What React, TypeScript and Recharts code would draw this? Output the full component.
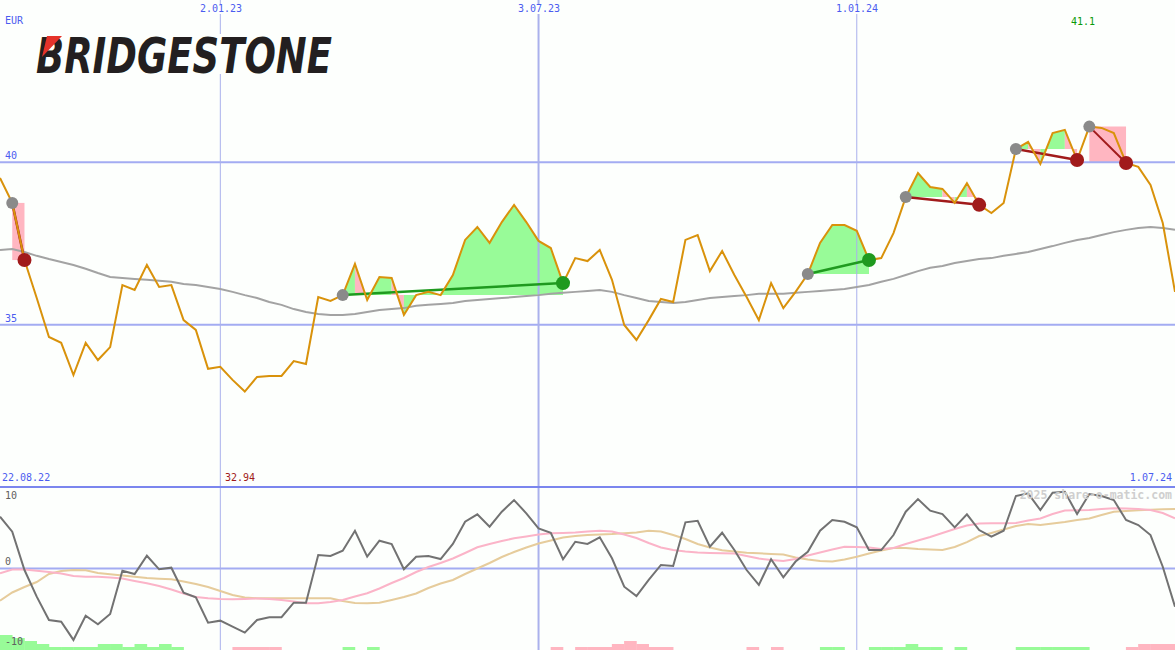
import { ComposedChart, Line, Area, Bar, XAxis, YAxis, ReferenceLine } from 'recharts';

// Weekly chart, week 1 sits on the left edge (29.08.22), week 97 = 1.07.24 on the right edge.
const W = 1175;
const TOP_H = 487;
const BOT_H = 163;
const BG = '#fdfffd';
const GRID = '#a3acf2';
const VGRID = '#aab1ec';

// weekly closes (EUR)
const price = [
  39.52, 38.75, 36.99, 35.82, 34.62, 34.44, 33.45, 34.44, 33.91, 34.31,
  36.22, 36.07, 36.84, 36.16, 36.22, 35.14, 34.84, 33.64, 33.70, 33.30,
  32.94, 33.39, 33.42, 33.42, 33.88, 33.79, 35.85, 35.73, 35.91, 36.87,
  35.76, 36.47, 36.44, 35.30, 35.91, 36.01, 35.91, 36.53, 37.61, 38.01,
  37.52, 38.16, 38.69, 38.16, 37.58, 37.36, 36.28, 37.05, 36.96, 37.30,
  36.38, 34.99, 34.53, 35.14, 35.79, 35.70, 37.61, 37.76, 36.65, 37.27,
  36.53, 35.85, 35.14, 36.28, 35.51, 36.01, 36.56, 37.52, 38.07, 38.07,
  37.89, 36.99, 37.05, 37.82, 38.93, 39.67, 39.24, 39.18, 38.75, 39.36,
  38.69, 38.44, 38.75, 40.41, 40.63, 39.95, 40.90, 41.00, 40.07, 41.10,
  41.06, 40.90, 39.98, 39.86, 39.30, 38.13, 36.01,
];

// long moving average (grey)
const ma = [
  37.30, 37.33, 37.24, 37.12, 37.02, 36.93, 36.84, 36.72, 36.59, 36.47,
  36.44, 36.41, 36.38, 36.35, 36.32, 36.25, 36.22, 36.16, 36.10, 36.01,
  35.91, 35.82, 35.70, 35.61, 35.48, 35.39, 35.33, 35.30, 35.30, 35.33,
  35.39, 35.45, 35.48, 35.51, 35.58, 35.61, 35.64, 35.67, 35.73, 35.76,
  35.79, 35.82, 35.85, 35.88, 35.91, 35.95, 35.98, 36.01, 36.04, 36.07,
  36.01, 35.91, 35.82, 35.73, 35.70, 35.67, 35.70, 35.76, 35.82, 35.85,
  35.88, 35.91, 35.95, 35.95, 35.95, 35.98, 36.01, 36.04, 36.07, 36.10,
  36.16, 36.22, 36.32, 36.41, 36.53, 36.65, 36.75, 36.81, 36.90, 36.96,
  37.02, 37.05, 37.12, 37.18, 37.24, 37.33, 37.42, 37.52, 37.61, 37.67,
  37.76, 37.85, 37.92, 37.98, 38.01, 37.98, 37.92,
];

// lower panel: oscillator (grey) and its two averages (pink, tan)
const osc = [
  7.81, 5.55, -0.23, -4.25, -7.77, -8.02, -10.78, -7.12, -8.42, -6.86,
  -0.33, -0.83, 1.93, -0.12, 0.12, -3.65, -4.34, -8.17, -7.87, -8.78,
  -9.68, -7.77, -7.36, -7.36, -5.16, -5.16, 2.04, 1.89, 2.68, 5.70,
  1.78, 4.19, 3.70, -0.12, 1.78, 1.89, 1.43, 3.70, 7.06, 8.17,
  6.30, 8.57, 10.33, 8.33, 6.06, 5.40, 1.39, 4.04, 3.70, 4.71,
  1.54, -2.75, -4.15, -1.73, 0.53, 0.38, 6.97, 7.21, 3.29, 5.40,
  2.79, -0.23, -2.49, 1.39, -1.33, 1.05, 2.53, 5.70, 7.32, 7.06,
  6.21, 2.79, 2.79, 5.05, 8.57, 10.48, 8.72, 8.22, 6.21, 8.17,
  5.81, 4.80, 5.70, 10.94, 11.34, 8.82, 11.43, 11.58, 8.22, 11.24,
  10.94, 10.33, 7.32, 6.56, 5.05, 0.27, -5.76,
];
const oscFast = [
  -0.72, -0.15, -0.15, -0.33, -0.53, -0.75, -1.13, -1.24, -1.24, -1.36,
  -1.51, -1.89, -2.23, -2.64, -3.17, -3.77, -4.30, -4.49, -4.60, -4.65,
  -4.60, -4.52, -4.60, -4.75, -4.98, -5.25, -5.25, -5.05, -4.75, -4.22,
  -3.74, -3.02, -2.19, -1.43, -0.53, 0.23, 0.83, 1.51, 2.34, 3.20,
  3.70, 4.15, 4.56, 4.83, 5.13, 5.31, 5.35, 5.43, 5.58, 5.70,
  5.58, 5.13, 4.60, 3.85, 3.17, 2.79, 2.56, 2.41, 2.34, 2.31,
  2.26, 1.89, 1.51, 1.28, 1.13, 1.43, 1.96, 2.41, 2.87, 3.29,
  3.24, 3.17, 2.94, 3.09, 3.70, 4.22, 4.75, 5.35, 5.96, 6.49,
  6.79, 6.82, 6.82, 6.86, 7.24, 7.54, 8.22, 8.75, 8.79, 8.82,
  8.97, 9.08, 9.05, 8.97, 8.82, 8.37, 7.57,
];
const oscSlow = [
  -4.86, -3.62, -2.79, -2.04, -0.83, -0.38, -0.23, -0.27, -0.68, -0.87,
  -1.06, -1.25, -1.43, -1.54, -1.61, -1.96, -2.34, -2.79, -3.39, -4.00,
  -4.37, -4.49, -4.49, -4.49, -4.49, -4.49, -4.49, -4.49, -4.90, -5.20,
  -5.25, -5.16, -4.75, -4.30, -3.77, -2.94, -2.26, -1.73, -0.83, 0.00,
  0.83, 1.73, 2.49, 3.17, 3.77, 4.22, 4.68, 4.90, 5.05, 5.13,
  5.20, 5.32, 5.43, 5.69, 5.58, 5.05, 4.45, 3.70, 3.17, 2.76,
  2.56, 2.38, 2.29, 2.19, 2.11, 1.66, 1.36, 1.13, 1.06, 1.36,
  1.78, 2.26, 2.71, 3.09, 3.09, 2.94, 2.87, 2.79, 3.24, 3.99,
  4.90, 5.35, 5.88, 6.41, 6.71, 6.56, 6.79, 7.01, 7.32, 7.54,
  8.07, 8.57, 8.67, 8.79, 8.88, 8.94, 8.97,
];

// histogram blocks at the bottom: [week, level], a block covers week..week+1
const histUp = [
  [1, 5], [2, 4], [3, 3], [4, 2], [5, 1], [6, 1], [7, 1], [8, 1], [9, 2], [10, 2],
  [11, 1], [12, 2], [13, 1], [14, 2], [15, 1], [29, 1], [31, 1], [68, 1], [69, 1],
  [72, 1], [73, 1], [74, 1], [75, 2], [76, 1], [77, 1], [79, 1],
  [84, 1], [85, 1], [86, 1], [87, 1], [88, 1], [89, 1],
];
const histDown = [
  [20, 1], [21, 1], [22, 1], [23, 1], [46, 1], [48, 1], [49, 1], [50, 1], [51, 2],
  [52, 3], [53, 2], [54, 1], [55, 1], [62, 1], [64, 1], [93, 1], [94, 2], [95, 2], [96, 2],
];

// signals: entry week (grey dot) -> exit week (green / red dot)
const trades = [
  { entry: 2, exit: 3, win: false, box: true },
  { entry: 29, exit: 47, win: true, box: false },
  { entry: 67, exit: 72, win: true, box: false },
  { entry: 75, exit: 81, win: false, box: false },
  { entry: 84, exit: 89, win: false, box: false },
  { entry: 90, exit: 93, win: false, box: true },
];
// shaded runs between price and the entry level
const fillRuns = [
  { trade: 1, from: 29, to: 30, up: true },
  { trade: 1, from: 30, to: 31, up: false },
  { trade: 1, from: 31, to: 33, up: true },
  { trade: 1, from: 33, to: 34, up: false },
  { trade: 1, from: 34, to: 47, up: true },
  { trade: 2, from: 67, to: 72, up: true },
  { trade: 3, from: 75, to: 78, up: true },
  { trade: 3, from: 78, to: 79, up: false },
  { trade: 3, from: 79, to: 80, up: true },
  { trade: 3, from: 80, to: 81, up: false },
  { trade: 4, from: 84, to: 85, up: true },
  { trade: 4, from: 85, to: 86, up: false },
  { trade: 4, from: 86, to: 88, up: true },
  { trade: 4, from: 88, to: 89, up: false },
];

const dateTicks = [
  { week: 19, px: 221, label: '2.01.23', wide: false },
  { week: 45, px: 539, label: '3.07.23', wide: true },
  { week: 71, px: 857, label: '1.01.24', wide: false },
];
const priceGrid = [40, 35];

const GREEN_FILL = '#98fb98';
const PINK_FILL = '#ffb6c1';

const rows: any[] = price.map((p, k) => ({
  i: k + 1, price: p, ma: ma[k], osc: osc[k], fast: oscFast[k], slow: oscSlow[k],
}));
trades.forEach((t, n) => {
  const a = price[t.entry - 1];
  const b = price[t.exit - 1];
  rows[t.entry - 1]['t' + n] = a;
  rows[t.exit - 1]['t' + n] = b;
  rows[t.entry - 1].entryDot = a;
  rows[t.exit - 1][t.win ? 'winDot' : 'lossDot'] = b;
  if (t.box) {
    for (let i = t.entry; i <= t.exit; i++) rows[i - 1]['box' + n] = [b, a];
  }
});
fillRuns.forEach((f, n) => {
  const base = price[trades[f.trade].entry - 1];
  for (let i = f.from; i <= f.to; i++) rows[i - 1]['f' + n] = [base, price[i - 1]];
});

const histRows: any[] = [];
for (let k = 1; k <= 96; k++) {
  const u = histUp.find(h => h[0] === k);
  const d = histDown.find(h => h[0] === k);
  histRows.push({ x: k + 0.5, up: u ? u[1] : 0, down: d ? d[1] : 0 });
}

// one week wide block, so neighbouring weeks touch like in the original
const STEP = W / 96;
const HistBlock = (p: any) => {
  if (!p.height || p.height <= 0) return null;
  const cx = p.x + p.width / 2;
  return <rect x={cx - STEP / 2} y={p.y} width={STEP + 0.4} height={p.height} fill={p.fill} />;
};

const M = { top: 0, right: 0, bottom: 0, left: 0 };
const FONT = "'DejaVu Sans Mono', monospace";

function Txt({ x, y, text, color, align = 'left', size = 10, bg, bold }: any) {
  const style: any = {
    position: 'absolute', top: y - size / 2, fontFamily: FONT, fontSize: size, lineHeight: size + 'px',
    color, whiteSpace: 'nowrap', fontWeight: bold ? 700 : 400, background: bg,
  };
  if (align === 'left') style.left = x;
  if (align === 'center') { style.left = x; style.transform = 'translateX(-50%)'; }
  if (align === 'right') style.right = W - x;
  return <div style={style}>{text}</div>;
}

export default function App() {
  return (
    <div style={{ position: 'relative', width: W, height: 650, background: BG, overflow: 'hidden' }}>
      <style>{'body{margin:0}'}</style>

      {/* price panel */}
      <div style={{ position: 'absolute', left: 0, top: 0 }}>
        <ComposedChart width={W} height={TOP_H} data={rows} margin={M}>
          <XAxis type="number" dataKey="i" domain={[1, 97]} hide allowDataOverflow />
          <YAxis type="number" domain={[30, 45]} hide allowDataOverflow />
          {priceGrid.map(v => <ReferenceLine key={v} y={v} stroke={GRID} strokeWidth={2} />)}
          {dateTicks.map(t => <ReferenceLine key={t.label} x={t.week} stroke={VGRID} strokeWidth={t.wide ? 2 : 1} />)}
          {trades.map((t, n) => t.box ? (
            <Area key={'box' + n} dataKey={'box' + n} type="linear" stroke="none" fill={PINK_FILL} fillOpacity={1} isAnimationActive={false} dot={false} activeDot={false} />
          ) : null)}
          {fillRuns.map((f, n) => (
            <Area key={'f' + n} dataKey={'f' + n} type="linear" stroke="none" fill={f.up ? GREEN_FILL : PINK_FILL} fillOpacity={1} isAnimationActive={false} dot={false} activeDot={false} />
          ))}
          <Line dataKey="ma" type="linear" stroke="#a3a3a3" strokeWidth={2} dot={false} activeDot={false} isAnimationActive={false} />
          {trades.map((t, n) => (
            <Line key={'t' + n} dataKey={'t' + n} type="linear" connectNulls stroke={t.win ? '#1f9a1f' : '#a11b1b'} strokeWidth={n === 5 ? 2 : 2.5} dot={false} activeDot={false} isAnimationActive={false} />
          ))}
          <Line dataKey="price" type="linear" stroke="#d9920b" strokeWidth={2} dot={false} activeDot={false} isAnimationActive={false} />
          <Line dataKey="entryDot" stroke="none" dot={{ r: 6, fill: '#8a8a8a', stroke: 'none' }} activeDot={false} isAnimationActive={false} />
          <Line dataKey="winDot" stroke="none" dot={{ r: 7, fill: '#1f9a1f', stroke: 'none' }} activeDot={false} isAnimationActive={false} />
          <Line dataKey="lossDot" stroke="none" dot={{ r: 7, fill: '#a11b1b', stroke: 'none' }} activeDot={false} isAnimationActive={false} />
        </ComposedChart>
      </div>

      {/* histogram, behind the oscillator lines */}
      <div style={{ position: 'absolute', left: 0, top: TOP_H }}>
        <ComposedChart width={W} height={BOT_H} data={histRows} margin={M} barGap={0} barCategoryGap={0}>
          <XAxis type="number" dataKey="x" domain={[1, 97]} hide allowDataOverflow />
          <YAxis type="number" domain={[0, BOT_H / 3]} hide allowDataOverflow />
          <Bar dataKey="up" stackId="h" fill={GREEN_FILL} barSize={12} shape={HistBlock} isAnimationActive={false} />
          <Bar dataKey="down" stackId="h" fill={PINK_FILL} barSize={12} shape={HistBlock} isAnimationActive={false} />
        </ComposedChart>
      </div>

      {/* oscillator panel */}
      <div style={{ position: 'absolute', left: 0, top: TOP_H }}>
        <ComposedChart width={W} height={BOT_H} data={rows} margin={M}>
          <XAxis type="number" dataKey="i" domain={[1, 97]} hide allowDataOverflow />
          <YAxis type="number" domain={[-12.3, 12.3]} hide allowDataOverflow />
          <ReferenceLine y={0} stroke={GRID} strokeWidth={2} />
          {dateTicks.map(t => <ReferenceLine key={t.label} x={t.week} stroke={VGRID} strokeWidth={t.wide ? 2 : 1} />)}
          <Line dataKey="slow" type="linear" stroke="#e6cc9c" strokeWidth={2} dot={false} activeDot={false} isAnimationActive={false} />
          <Line dataKey="fast" type="linear" stroke="#fbb4c8" strokeWidth={2} dot={false} activeDot={false} isAnimationActive={false} />
          <Line dataKey="osc" type="linear" stroke="#727272" strokeWidth={2} dot={false} activeDot={false} isAnimationActive={false} />
        </ComposedChart>
      </div>

      {/* panel divider */}
      <div style={{ position: 'absolute', left: 0, top: TOP_H - 1, width: W, height: 2, background: '#7b86ee' }} />

      {/* logo: a roomy svg so the whole glyph box of the text fits inside it */}
      <svg style={{ position: 'absolute', left: 30, top: 6, overflow: 'visible' }} width={460} height={90}>
        <rect x={0} y={28} width={310} height={40} fill={BG} />
        <text x={6} y={66.5} fontFamily="'DejaVu Sans', sans-serif" fontWeight={700} fontStyle="italic" fontSize={49}
          textLength={296} lengthAdjust="spacingAndGlyphs" fill="#231f20">BRIDGESTONE</text>
        <polygon points="17,30 32,30 12,51" fill="#e5332a" />
      </svg>

      {/* labels */}
      <Txt x={5} y={21} text="EUR" color="#4b5cf0" />
      {dateTicks.map(t => <Txt key={t.label} x={t.px} y={9} text={t.label} color="#4b5cf0" align="center" bg={BG} />)}
      <Txt x={5} y={156} text="40" color="#4b5cf0" />
      <Txt x={5} y={319} text="35" color="#4b5cf0" />
      <Txt x={1083} y={22} text="41.1" color="#0a9a0a" align="center" />
      <Txt x={2} y={478} text="22.08.22" color="#4b5cf0" />
      <Txt x={225} y={478} text="32.94" color="#a11b1b" />
      <Txt x={1172} y={478} text="1.07.24" color="#4b5cf0" align="right" />
      <Txt x={1172} y={496} text="2025 share-o-matic.com" color="#cfcfcf" size={11.5} bold align="right" />
      <Txt x={5} y={496} text="10" color="#606060" />
      <Txt x={5} y={562} text="0" color="#606060" />
      <Txt x={5} y={642} text="-10" color="#606060" />
    </div>
  );
}
